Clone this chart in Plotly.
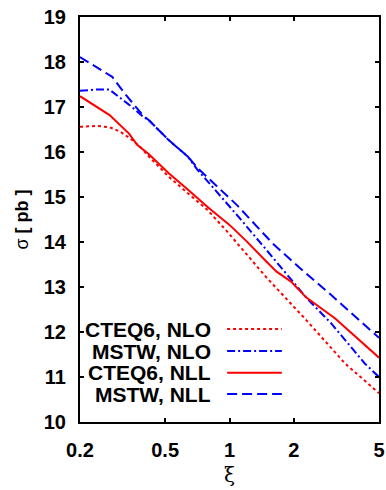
import math
import plotly.graph_objects as go

# CTEQ6, NLO (red dotted)
x_cteq_nlo = [0.2, 0.24, 0.275, 0.309, 0.35, 0.381, 0.42, 0.52, 0.64, 0.79, 0.976, 1.12, 1.49, 2.28, 3.47, 5.0]
y_cteq_nlo = [16.56, 16.58, 16.55, 16.45, 16.27, 16.12, 15.9, 15.45, 15.08, 14.71, 14.23, 13.9, 13.21, 12.27, 11.30, 10.64]

# MSTW, NLO (blue dash-dot)
x_mstw_nlo = [0.2, 0.24, 0.274, 0.3, 0.35, 0.396, 0.419, 0.518, 0.638, 0.71, 1.084, 1.49, 2.0, 2.28, 2.99, 4.29, 5.0]
y_mstw_nlo = [17.36, 17.39, 17.39, 17.25, 17.0, 16.78, 16.71, 16.27, 15.9, 15.6, 14.6, 13.82, 13.08, 12.77, 12.19, 11.30, 11.0]

# CTEQ6, NLL (red solid)
x_cteq_nll = [0.2, 0.275, 0.339, 0.37, 0.42, 0.52, 0.64, 0.79, 1.0, 1.2, 1.49, 1.66, 1.94, 2.28, 3.12, 4.29, 5.0]
y_cteq_nll = [17.24, 16.82, 16.41, 16.16, 15.95, 15.53, 15.16, 14.78, 14.38, 14.02, 13.56, 13.34, 13.12, 12.77, 12.30, 11.71, 11.43]

# MSTW, NLL (blue dashed)
x_mstw_nll = [0.2, 0.283, 0.33, 0.396, 0.419, 0.518, 0.638, 0.71, 1.084, 1.59, 2.1, 2.99, 5.0]
y_mstw_nll = [18.11, 17.67, 17.25, 16.8, 16.71, 16.27, 15.9, 15.64, 14.82, 13.97, 13.45, 12.82, 11.87]

x_ticks = [0.2, 0.5, 1, 2, 5]
x_tick_labels = ["0.2", "0.5", "1", "2", "5"]
y_ticks = [10, 11, 12, 13, 14, 15, 16, 17, 18, 19]

series = [
    ("CTEQ6, NLO", x_cteq_nlo, y_cteq_nlo, "#ff0000", "dot"),
    ("MSTW, NLO", x_mstw_nlo, y_mstw_nlo, "#0000ff", "8px,3px,2px,3px"),
    ("CTEQ6, NLL", x_cteq_nll, y_cteq_nll, "#ff0000", "solid"),
    ("MSTW, NLL", x_mstw_nll, y_mstw_nll, "#0000ff", "10px,5px"),
]

fig = go.Figure()
for name, xs, ys, col, dash in series:
    fig.add_trace(go.Scatter(x=xs, y=ys, mode="lines", name=name,
                             line=dict(color=col, width=2, dash=dash),
                             showlegend=False))

# manual legend (text left, sample right)
leg_y = [0.2296, 0.1753, 0.1217, 0.0691]
for (name, xs, ys, col, dash), ly in zip(series, leg_y):
    fig.add_shape(type="line", xref="paper", yref="paper",
                  x0=0.492, x1=0.675, y0=ly, y1=ly,
                  line=dict(color=col, width=2, dash=dash))
    fig.add_annotation(xref="paper", yref="paper", x=0.446, y=ly,
                       text=name, showarrow=False, xanchor="right", yanchor="middle",
                       font=dict(family="Liberation Sans", size=21, color="black", weight="bold"))

fig.update_layout(
    width=386, height=490,
    margin=dict(l=80, r=1, t=17, b=68),
    paper_bgcolor="white", plot_bgcolor="white",
    showlegend=False,
)
fig.update_xaxes(
    type="log", range=[math.log10(0.2) - 1e-6, math.log10(5) + 1e-6],
    tickvals=x_ticks, ticktext=x_tick_labels,
    ticks="inside", ticklen=4, tickwidth=2, tickcolor="black",
    showline=True, linecolor="black", linewidth=2, mirror="ticks",
    showgrid=False, zeroline=False,
    tickfont=dict(family="Liberation Sans", size=20, color="black", weight="bold"),
    ticklabelstandoff=9, ticklabeloverflow="allow",
    title=dict(text="ξ", font=dict(family="DejaVu Serif", size=20, color="black"), standoff=8),
)
fig.update_yaxes(
    range=[10, 19], tickvals=y_ticks,
    ticks="inside", ticklen=4, tickwidth=2, tickcolor="black",
    showline=True, linecolor="black", linewidth=2, mirror="ticks",
    showgrid=False, zeroline=False,
    tickfont=dict(family="Liberation Sans", size=20, color="black", weight="bold"),
    ticklabelstandoff=8,
    title=dict(text="σ <b>[ pb ]</b>", font=dict(family="Liberation Sans", size=18, color="black"), standoff=10),
)

fig.write_html("out.html")
